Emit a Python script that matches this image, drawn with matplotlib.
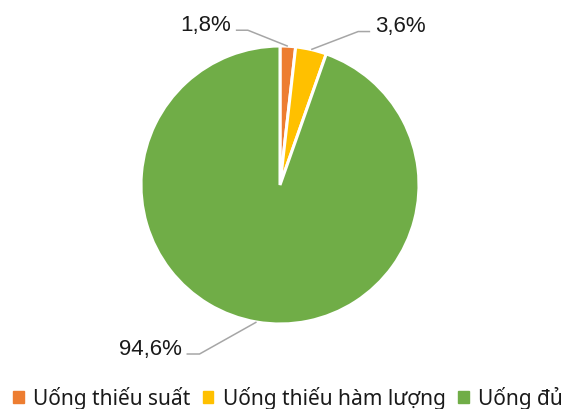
import numpy as np
import matplotlib
matplotlib.use("Agg")
import matplotlib.pyplot as plt
from matplotlib.patches import Rectangle

categories = ["Uống thiếu suất", "Uống thiếu hàm lượng", "Uống đủ"]
values = [1.8, 3.6, 94.6]
labels = ["1,8%", "3,6%", "94,6%"]
colors = ["#ED7D31", "#FFC000", "#70AD47"]

W, H = 562, 410
fig = plt.figure(figsize=(W / 100, H / 100), dpi=100)
ax = fig.add_axes([0, 0, 1, 1])

cx, cy, R = 280, 224, 139
wedges, _ = ax.pie(values, colors=colors, startangle=90, counterclock=False,
                   center=(cx, cy), radius=R, frame=True,
                   wedgeprops=dict(edgecolor="white", linewidth=2.2))
ax.set_xlim(0, W)
ax.set_ylim(0, H)
ax.set_aspect("equal")
ax.axis("off")

font = "Liberation Sans"
# label layout: (elbow offset from edge point, horizontal run, text side)
layout = [((-40, 16), -12, "right"), ((47, 18), 12, "left"), ((-57, -32), -13, "right")]
for w, lab, (off, run, side) in zip(wedges, labels, layout):
    ang = np.deg2rad((w.theta1 + w.theta2) / 2)
    ex, ey = cx + R * np.cos(ang), cy + R * np.sin(ang)
    bx, by = ex + off[0], ey + off[1]
    tx = bx + run
    ax.plot([ex, bx, tx], [ey, by, by], color="#A6A6A6", lw=1.1, solid_capstyle="butt")
    ha = "right" if side == "right" else "left"
    ax.text(tx + (-5 if ha == "right" else 5), by + 6, lab, ha=ha, va="center",
            fontsize=16, family=font, color="#1a1a1a")

handles = [Rectangle((0, 0), 1, 1, color=c) for c in colors]
leg = fig.legend(handles, categories, loc="center", bbox_to_anchor=(288 / W, 11 / H),
                 ncol=3, frameon=False, handlelength=0.5, handleheight=0.5,
                 handletextpad=0.45, columnspacing=0.6,
                 prop=dict(family="Noto Sans", size=15))
for t in leg.get_texts():
    t.set_color("#1a1a1a")

fig.savefig("out.png", dpi=100)
